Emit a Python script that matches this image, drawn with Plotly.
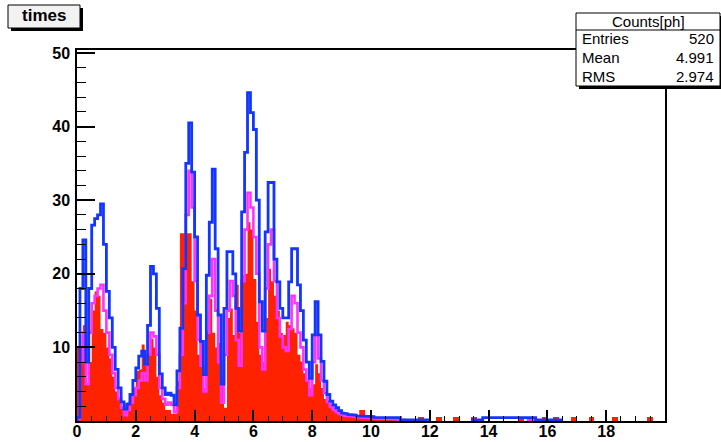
import plotly.graph_objects as go

# ---------------- data (bin width 0.1 starting at 0) ----------------
BIN_W = 0.1
X_START = 0.0

blue_counts = [
    0.5, 18, 24.6, 8, 18, 26.6, 27.5, 28, 29.5, 24,
    17.6, 14, 10, 7, 4.5, 2.6, 1.6, 2.3, 3.6, 5.5,
    7.2, 8.8, 9.5, 7.7, 13, 21, 20, 15.3, 6.4, 4.5,
    3.6, 3.8, 3.5, 2.2, 6.8, 12.6, 20.7, 35, 40.5, 33.8,
    25, 14.4, 10.8, 6.3, 19.8, 27, 34.2, 23.4, 14.4, 5,
    15.3, 23, 23, 20, 15.3, 12.2, 28.4, 36.5, 44.6, 41.9,
    39.6, 30, 16.2, 12.2, 25.7, 32.4, 32.4, 22, 18.9, 15.3,
    14, 14, 18.9, 23.4, 23.4, 18.5, 15, 11, 8, 5.8,
    11.7, 16.2, 11.7, 8.1, 5.4, 3.6, 2.7, 2.2, 1.8, 1.4,
    1.1, 1.0, 0.9, 0.9, 0.8, 0.7, 0.7, 0.7, 0.6, 0.6,
    0.6, 0.5, 0.45, 0.45, 0.45, 0.45, 0.45, 0.45, 0.45, 0.45,
    0.15, 0.15, 0.15, 0.15, 0.15, 0.15, 0.15, 0.15, 0.15, 0.15,
    None, None, None, None, None, None, None, None, None, None,
    None, None, None, None, 0.15, 0.15, 0.15, 0.15, 0.45, 0.45,
    0.45, 0.45, 0.45, 0.45, 0.45, 0.45, 0.45, 0.45, 0.45, 0.45,
    0.45, 0.45, 0.45, 0.45, 0.45, 0.45, 0.15, 0.15, 0.15, 0.15,
    0.15, 0.15, 0.15, 0.15, 0.15,
]

magenta_counts = [
    0.3, 8, 12, 5, 12, 16, 17, 18, 18.5, 15,
    12, 9, 6.5, 4.5, 3, 1.8, 0.8, 1.5, 2.5, 3.5,
    4.5, 5.5, 6.5, 5.5, 9, 12, 11.5, 9, 4.5, 3,
    2.2, 2.5, 2.2, 1.2, 4.5, 9, 16, 28, 34, 29,
    19, 11, 7.5, 4, 12, 17, 22, 15, 8, 2.5,
    9, 15, 19, 17, 11, 7.5, 19, 26, 31, 29,
    25, 20, 10, 7, 18, 24, 26, 19, 14, 11.5,
    10, 9.5, 12.5, 17, 16, 12, 10, 7, 5.5, 3.5,
    8, 11.7, 8.5, 5.5, 3.8, 2.6, 1.9, 1.5, 1.2, 1.0,
    0.8, 0.7, 0.7, 0.6, 0.6, 0.5, 0.5, 0.5, 0.4, 0.4,
    0.4, 0.35, 0.35, 0.3, 0.3, 0.3, 0.3, 0.25, 0.25, 0.2,
    0.1, 0.1, 0.1, None, None, None, None, None, None, None,
    None, None, None, None, None, None, None, None, None, None,
    None, None, None, None, None, None, None, None, None, None,
    None, None, None, None, None, None, None, None, None, None,
    None, None, None, 0.1, 0.1, 0.1,
]

red_counts = [
    10, 10, 13, 5, 8, 15, 17.6, 17, 12.5, 12,
    10, 8.5, 6, 4, 3, 1.8, 1.5, 2.5, 3.5, 4.5,
    6.8, 7, 10.4, 7.5, 9, 11.2, 10, 6, 3.5, 2.5,
    1.5, 1.5, 1, 1, 5.4, 25.5, 25.5, 25.5, 25.5, 19,
    15, 9, 10.8, 4.5, 12, 16.6, 12, 10, 10.6, 6,
    1.8, 14, 15.3, 11.7, 18.5, 12, 19.8, 20, 27, 26,
    19.3, 13.5, 9, 8, 14, 20.7, 19, 17, 15, 12,
    11.7, 13.5, 13, 12.6, 12, 9, 8.1, 6.5, 5.4, 4.5,
    5, 7.7, 6.5, 4.5, 3, 2.7, 2.2, 1.5, 1.4, 1.2,
    0.8, 0.7, 0.7, 0.7, 0.7, 0.6, 1.5, 1.5, 0.5, 0.4,
    0.4, 0.4, 0.3, 0.3, 0.3, 0.3, 0.3, 0.3, 0.3, 0.3,
]

# sparse tail of the red histogram (coarser blocks)
red_tail_x = [11.7, 12.3, 12.9, 13.5, 15.1, 15.5, 15.9, 16.3, 16.9, 17.5, 18.3, 19.5]
red_tail_y = [0.6, 0.6, 0.6, 0.6, 0.6, 0.6, 0.6, 0.6, 0.6, 0.6, 0.6, 0.6]
RED_TAIL_W = 0.2

x_tick_vals = [0, 2, 4, 6, 8, 10, 12, 14, 16, 18]
y_tick_vals = [0, 10, 20, 30, 40, 50]
y_tick_text = ["", "10", "20", "30", "40", "50"]

title_text = "times"
stats_header = "Counts[ph]"
stats_names = ["Entries", "Mean", "RMS"]
stats_values = ["520", "4.991", "2.974"]

# ---------------- helpers ----------------
def step_xy(vals, x0, w, close=False):
    xs, ys = [], []
    prev_none = True
    for i, v in enumerate(vals):
        left = x0 + i * w
        right = left + w
        if v is None:
            if not prev_none:
                xs.append(None); ys.append(None)
            prev_none = True
            continue
        xs += [left, right]
        ys += [v, v]
        prev_none = False
    if close:
        xs = [x0] + xs + [x0 + len(vals) * w]
        ys = [0] + ys + [0]
    return xs, ys

RED = "#ff2200"
MAG = "#ff33ff"
BLUE = "#1236ff"
FONT = "Liberation Sans, Arial, Helvetica, sans-serif"

fig = go.Figure()

rx, ry = step_xy(red_counts, X_START, BIN_W, close=True)
fig.add_trace(go.Scatter(x=rx, y=ry, mode="lines", fill="tozeroy",
                         line=dict(width=0, color=RED), fillcolor=RED,
                         hoverinfo="skip", showlegend=False))
fig.add_trace(go.Bar(x=red_tail_x, y=red_tail_y, width=RED_TAIL_W,
                     marker=dict(color=RED, line=dict(width=0)),
                     showlegend=False))

mx, my = step_xy(magenta_counts, X_START, BIN_W)
fig.add_trace(go.Scatter(x=[X_START] + mx, y=[0] + my, mode="lines",
                         line=dict(width=2.6, color=MAG),
                         connectgaps=False, showlegend=False))

bx, by = step_xy(blue_counts, X_START, BIN_W)
fig.add_trace(go.Scatter(x=[X_START] + bx, y=[0] + by, mode="lines",
                         line=dict(width=2.8, color=BLUE),
                         connectgaps=False, showlegend=False))

# ---------------- layout ----------------
W, H = 721, 442
PL, PR, PT, PB = 77, 665, 50, 421

def fx(px):
    return (px - PL) / (PR - PL)

def fy(py):
    return (PB - py) / (PB - PT)

tick_font = dict(family=FONT, size=16, color="black", weight="bold")

fig.update_layout(
    width=W, height=H,
    margin=dict(l=PL, r=W - PR, t=PT, b=H - PB, pad=0),
    paper_bgcolor="white", plot_bgcolor="white",
    bargap=0,
    xaxis=dict(range=[0, 20], showgrid=False, zeroline=False, automargin=False,
               showline=True, linecolor="black", linewidth=1.5, mirror=True,
               ticks="inside", ticklen=11, tickwidth=1.5, tickcolor="black",
               tickmode="array", tickvals=x_tick_vals,
               ticktext=[str(v) for v in x_tick_vals],
               tickfont=tick_font, ticklabelstandoff=-5,
               minor=dict(ticks="inside", ticklen=5.5, tickwidth=1.2,
                          tickcolor="black", tickmode="linear", tick0=0, dtick=0.5)),
    yaxis=dict(range=[0, 50.4], showgrid=False, zeroline=False, automargin=False,
               showline=True, linecolor="black", linewidth=1.5, mirror=True,
               ticks="inside", ticklen=18, tickwidth=1.5, tickcolor="black",
               tickmode="array", tickvals=y_tick_vals, ticktext=y_tick_text,
               tickfont=tick_font, ticklabelstandoff=2,
               minor=dict(ticks="inside", ticklen=9, tickwidth=1.2,
                          tickcolor="black", tickmode="linear", tick0=0, dtick=2)),
)

shapes = []
# title box with shadow
shapes.append(dict(type="rect", xref="paper", yref="paper",
                   x0=fx(11), x1=fx(83), y0=fy(31), y1=fy(8),
                   fillcolor="black", line=dict(width=0)))
shapes.append(dict(type="rect", xref="paper", yref="paper",
                   x0=fx(8), x1=fx(80), y0=fy(28), y1=fy(5),
                   fillcolor="#f2f2f2", line=dict(width=1, color="black")))
# stats box with shadow
shapes.append(dict(type="rect", xref="paper", yref="paper",
                   x0=fx(579), x1=fx(724), y0=fy(89), y1=fy(16),
                   fillcolor="black", line=dict(width=0)))
shapes.append(dict(type="rect", xref="paper", yref="paper",
                   x0=fx(576), x1=fx(720), y0=fy(86), y1=fy(13),
                   fillcolor="white", line=dict(width=1, color="black")))
shapes.append(dict(type="line", xref="paper", yref="paper",
                   x0=fx(576), x1=fx(720), y0=fy(30), y1=fy(30),
                   line=dict(width=1, color="black")))
fig.update_layout(shapes=shapes)

ann = []
ann.append(dict(xref="paper", yref="paper", x=fx(44), y=fy(16),
                text=title_text, showarrow=False, xanchor="center", yanchor="middle",
                font=dict(family=FONT, size=17, color="black", weight="bold")))
ann.append(dict(xref="paper", yref="paper", x=fx(648), y=fy(21.5),
                text=stats_header, showarrow=False, xanchor="center", yanchor="middle",
                font=dict(family=FONT, size=15, color="black")))
row_y = [38, 57, 76]
for name, val, ry_ in zip(stats_names, stats_values, row_y):
    ann.append(dict(xref="paper", yref="paper", x=fx(580), y=fy(ry_),
                    text=name, showarrow=False, xanchor="left", yanchor="middle",
                    font=dict(family=FONT, size=15, color="black")))
    ann.append(dict(xref="paper", yref="paper", x=fx(716), y=fy(ry_),
                    text=val, showarrow=False, xanchor="right", yanchor="middle",
                    font=dict(family=FONT, size=15, color="black")))
fig.update_layout(annotations=ann)

fig.write_html("out.html")
